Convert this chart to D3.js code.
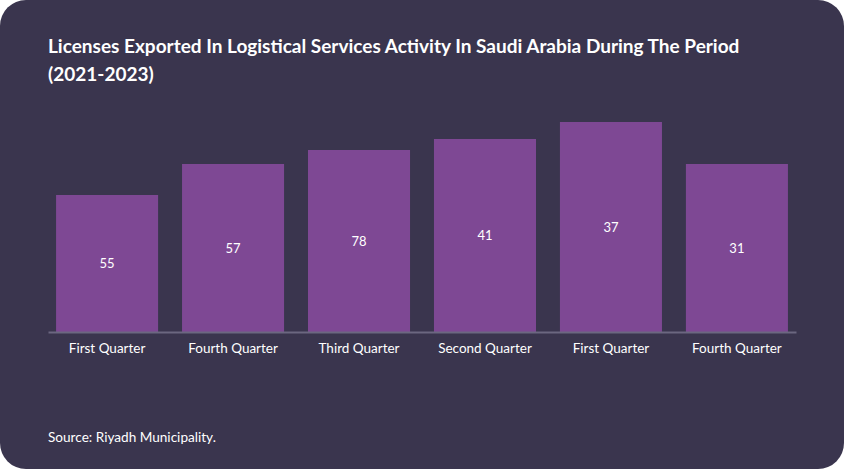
<!DOCTYPE html>
<html>
<head>
<meta charset="utf-8">
<script src="https://cdn.jsdelivr.net/npm/d3@7"></script>
<style>
  body { margin: 0; background: #ffffff; }
  svg { display: block; }
</style>
</head>
<body>
<div class="visHolder"></div>
<script>
// categories along the x axis
let quarters = ['First Quarter', 'Fourth Quarter', 'Third Quarter', 'Second Quarter', 'First Quarter', 'Fourth Quarter'];
// printed labels inside the bars
let valueLabels = [55, 57, 78, 41, 37, 31];
// bar lengths as drawn (arbitrary unit)
let barLengths = [137, 168, 182, 193, 210, 168];

let width = 844;
let height = 469;
let baseline = 332;
let plotTop = 122;

let svg = d3.select('.visHolder').append('svg')
  .attr('width', width)
  .attr('height', height);

svg.append('rect')
  .attr('width', width)
  .attr('height', height)
  .attr('rx', 26)
  .attr('fill', '#3a354e');

// title
let title = svg.append('text')
  .attr('x', 48)
  .attr('y', 53)
  .attr('fill', '#ffffff')
  .style('font-family', 'Lato, sans-serif')
  .style('font-weight', 'bold')
  .style('font-size', '19px');
title.append('tspan').attr('x', 48).text('Licenses Exported In Logistical Services Activity In Saudi Arabia During The Period');
title.append('tspan').attr('x', 48).attr('dy', 28).text('(2021-2023)');

let idx = d3.range(quarters.length);

let xScale = d3.scaleBand()
  .domain(idx)
  .range([48, 796])
  .paddingInner(0.19)
  .paddingOuter(0.064);

let yScale = d3.scaleLinear()
  .domain([0, d3.max(barLengths)])
  .range([baseline, plotTop]);

svg.selectAll('.bar')
  .data(idx)
  .enter().append('rect')
  .attr('class', 'bar')
  .attr('x', (i) => xScale(i))
  .attr('y', (i) => yScale(barLengths[i]))
  .attr('width', xScale.bandwidth())
  .attr('height', (i) => baseline - yScale(barLengths[i]))
  .attr('fill', '#7e4894');

svg.selectAll('.val')
  .data(idx)
  .enter().append('text')
  .attr('class', 'val')
  .attr('x', (i) => xScale(i) + xScale.bandwidth() / 2)
  .attr('y', (i) => (yScale(barLengths[i]) + baseline) / 2)
  .attr('dy', '0.35em')
  .attr('text-anchor', 'middle')
  .attr('fill', '#ffffff')
  .style('font-family', 'Lato, sans-serif')
  .style('font-size', '13px')
  .text((i) => valueLabels[i]);

let xAxis = d3.axisBottom(xScale)
  .tickSize(0)
  .tickPadding(11)
  .tickFormat((i) => quarters[i]);

let axisG = svg.append('g')
  .attr('transform', 'translate(0,' + baseline + ')')
  .call(xAxis);

axisG.select('.domain')
  .attr('stroke', '#6b6780')
  .attr('stroke-width', 2);

axisG.selectAll('text')
  .attr('fill', '#ffffff')
  .style('font-family', 'Lato, sans-serif')
  .style('font-size', '13.5px');

svg.append('text')
  .attr('x', 48)
  .attr('y', 442)
  .attr('fill', '#ffffff')
  .style('font-family', 'Lato, sans-serif')
  .style('font-size', '13.6px')
  .text('Source: Riyadh Municipality.');
</script>
</body>
</html>
